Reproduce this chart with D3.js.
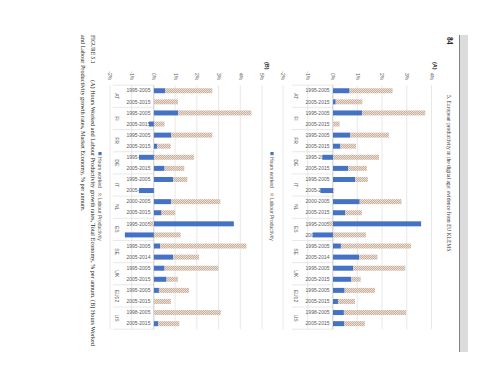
<!DOCTYPE html>
<html><head><meta charset="utf-8">
<script src="https://cdn.jsdelivr.net/npm/d3@7"></script>
<style>
html,body{margin:0;padding:0;background:#fff;}
svg{display:block;}
</style></head>
<body>
<svg id="chart" width="480" height="389"></svg>
<script>
// ---------- data ----------
const countries = ["AT","FI","FR","DE","IT","NL","ES","SE","UK","EU12","US"];
const periods = ["1995-2005","2005-2015","1995-2005","2005-2015","1995-2005","2005-2015","1995-2005","2005-2015","1995-2005","2005-2015","2000-2005","2005-2015","1995-2005","2005-2015","1995-2005","2005-2014","1995-2005","2005-2015","1995-2005","2005-2015","1998-2005","2005-2015"];
const hoursA = [0.67,0.11, 1.17,0.00, 0.70,0.30, -0.43,0.62, 0.90,-0.51, 1.08,0.50, 3.56,-0.82, 0.32,1.06, 0.82,0.74, 0.47,0.20, 0.44,0.46];
const prodA  = [1.74,1.08, 2.56,0.27, 1.56,0.63, 1.86,0.75, 0.51,0.05, 1.69,0.67, -0.17,1.33, 2.83,0.74, 2.10,0.38, 1.23,0.69, 2.51,0.83];
const hoursB = [0.51,0.00, 1.12,-0.23, 0.80,0.15, -0.69,0.49, 0.88,-0.69, 0.80,0.35, 3.68,-1.34, 0.29,0.89, 0.49,0.58, 0.23,0.00, 0.00,0.20];
const prodB  = [2.18,1.11, 3.37,0.49, 1.89,0.62, 1.85,0.91, 0.66,0.02, 2.26,0.63, -0.20,1.23, 3.97,1.19, 2.49,0.53, 1.39,0.78, 3.08,0.97];
const ticksA = [-2,-1,0,1,2,3,4];
const ticksB = [-2,-1,0,1,2,3,4,5];
const seriesNames = ["Hours worked","Labour Productivity"];
const pageNumber = "84";
const runningHead = "5. European productivity in the digital age: evidence from EU KLEMS";
const captionLines = [
  ["FIGURE 5.1", "(A) Hours Worked and Labour Productivity growth rates, Total Economy, % per annum. (B) Hours Worked"],
  ["", "and Labour Productivity growth rates, Market Economy, % per annum."]
];

// ---------- drawing ----------
const svg = d3.select("#chart");
svg.append("rect").attr("width",480).attr("height",389).attr("fill","#fff");

const defs = svg.append("defs");
const pat = defs.append("pattern").attr("id","hatch").attr("patternUnits","userSpaceOnUse")
  .attr("width",2).attr("height",2);
pat.append("rect").attr("width",2).attr("height",2).attr("fill","#ebdfd5");
pat.append("rect").attr("width",1).attr("height",1).attr("fill","#c9b09d");
pat.append("rect").attr("x",1).attr("y",1).attr("width",1).attr("height",1).attr("fill","#c9b09d");

const BLUE = "#4472c4";
const colors = [BLUE, "url(#hatch)"];

// page drawn upright, then rotated a quarter turn (scanned page lying sideways)
const page = svg.append("g").attr("transform","translate(480,0) rotate(90)");

// page edge strip
page.append("rect").attr("x",35).attr("y",12).attr("width",317).attr("height",8.5).attr("fill","#dcdcdc");
page.append("line").attr("x1",35).attr("x2",352).attr("y1",20.5).attr("y2",20.5).attr("stroke","#666").attr("stroke-width",0.8);

// running head
page.append("text").attr("x",37).attr("y",33.5).attr("font-family","Liberation Serif")
  .attr("font-weight","bold").attr("font-size",7.5).attr("fill","#222").text(pageNumber);
page.append("text").attr("x",95).attr("y",33).attr("font-family","Liberation Serif")
  .attr("font-size",5.5).attr("fill","#333").text(runningHead);

const u0 = 85.2, u1 = 329.2;
const x = d3.scaleBand().domain(d3.range(periods.length)).range([u0,u1])
  .paddingInner(0.55).paddingOuter(0.275);

function panel(label, hours, prod, ticks, yScale, legendV, labelV) {
  const g = page.append("g");
  // gridlines + value labels
  const ax = g.append("g").attr("transform",`translate(${u0},0)`)
    .call(d3.axisLeft(yScale).tickValues(ticks).tickSize(-(u1-u0)).tickPadding(5)
      .tickFormat(d => d + "%"));
  ax.select(".domain").remove();
  ax.selectAll(".tick line").attr("stroke","#d9d9d9").attr("stroke-width",0.6);
  ax.selectAll(".tick text").attr("font-family","Liberation Sans").attr("font-size",5)
    .attr("fill","#595959");

  // panel label
  g.append("text").attr("x",62).attr("y",labelV).attr("font-family","Liberation Sans")
    .attr("font-weight","bold").attr("font-size",5.5).attr("fill","#222").text(label);

  const z = yScale(0);
  // category labels
  const cat = g.append("g");
  cat.selectAll("text.per").data(periods).join("text").attr("class","per")
    .attr("transform",(d,i)=>`translate(${x(i)+x.bandwidth()/2},${z+3.5}) rotate(-90)`)
    .attr("text-anchor","end").attr("dy","0.35em")
    .attr("font-family","Liberation Sans").attr("font-size",5).attr("fill","#595959")
    .text(d=>d);
  const step = x.step();
  cat.selectAll("text.cty").data(countries).join("text").attr("class","cty")
    .attr("x",(d,i)=>u0 + step*(2*i+1)).attr("y",z+37).attr("dy","0.35em")
    .attr("text-anchor","middle").attr("font-family","Liberation Sans").attr("font-size",5)
    .attr("fill","#595959").text(d=>d);
  cat.selectAll("line.sep").data(d3.range(countries.length+1)).join("line").attr("class","sep")
    .attr("x1",i=>u0+step*2*i).attr("x2",i=>u0+step*2*i)
    .attr("y1",z).attr("y2",z+41).attr("stroke","#d9d9d9").attr("stroke-width",0.6);
  // zero axis line
  g.append("line").attr("x1",u0).attr("x2",u1).attr("y1",z).attr("y2",z)
    .attr("stroke","#bfbfbf").attr("stroke-width",0.6);

  // stacked bars
  const rows = hours.map((h,i)=>({i, h, p: prod[i]}));
  const stack = d3.stack().keys(["h","p"]).offset(d3.stackOffsetDiverging)(rows);
  g.selectAll("g.series").data(stack).join("g").attr("class","series")
    .attr("fill",(d,k)=>colors[k])
    .selectAll("rect").data(d=>d).join("rect")
    .attr("x",d=>x(d.data.i)).attr("width",x.bandwidth())
    .attr("y",d=>yScale(Math.max(d[0],d[1])))
    .attr("height",d=>Math.abs(yScale(d[0])-yScale(d[1])));

  // legend
  const leg = g.append("g");
  const legU = [152, 193];
  seriesNames.forEach((n,k)=>{
    leg.append("rect").attr("x",legU[k]).attr("y",legendV-1.6).attr("width",3.2).attr("height",3.2)
      .attr("fill",colors[k]);
    leg.append("text").attr("x",legU[k]+5).attr("y",legendV).attr("dy","0.35em")
      .attr("font-family","Liberation Sans").attr("font-size",5).attr("fill","#595959").text(n);
  });
}

const yA = d3.scaleLinear().domain([-2,4]).range([196.5,48]);
const yB = d3.scaleLinear().domain([-2,5]).range([369.5,217.5]);
panel("(A)", hoursA, prodA, ticksA, yA, 208, 47);
panel("(B)", hoursB, prodB, ticksB, yB, 380, 215);

// caption
captionLines.forEach((ln,k)=>{
  const t = page.append("text").attr("x",35).attr("y",389.5+9.4*k)
    .attr("font-family","Liberation Serif").attr("font-size",6.2).attr("fill","#222");
  if (ln[0]) {
    t.append("tspan").attr("font-size",5.6).text(ln[0]);
    t.append("tspan").attr("x",80).text(ln[1]);
  } else {
    t.append("tspan").text(ln[1]);
  }
});
</script>
</body></html>
